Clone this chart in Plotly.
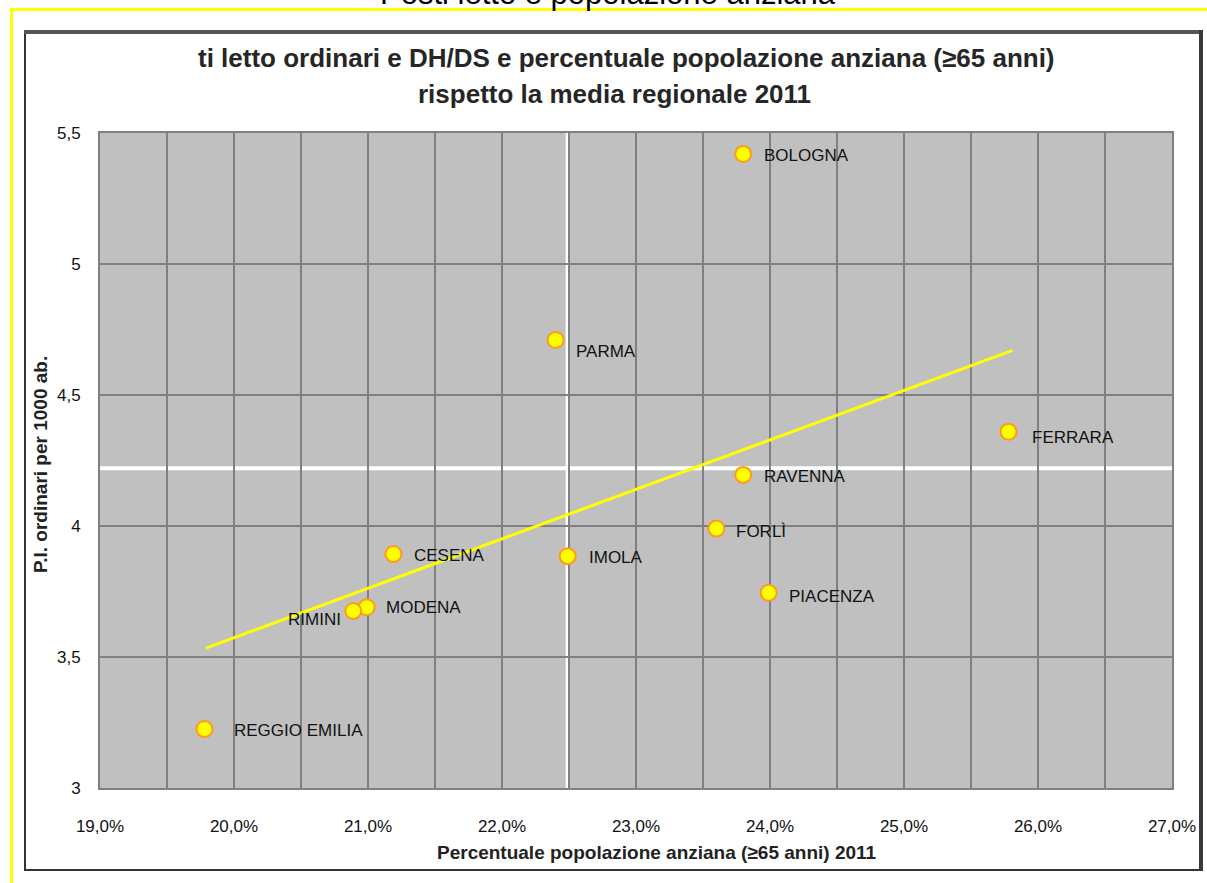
import plotly.graph_objects as go

# ---------------- data ----------------
cities = ["BOLOGNA", "PARMA", "FERRARA", "RAVENNA", "FORLÌ", "PIACENZA",
          "IMOLA", "CESENA", "MODENA", "RIMINI", "REGGIO EMILIA"]
pct_anziani = [23.80, 22.40, 25.78, 23.80, 23.60, 23.99, 22.49, 21.19, 20.99, 20.89, 19.78]
posti_letto = [5.42, 4.71, 4.36, 4.195, 3.99, 3.745, 3.885, 3.893, 3.69, 3.676, 3.225]

media_pct = 22.49      # regional mean, % population >=65
media_pl = 4.22        # regional mean, beds per 1000

trend_x = [19.79, 25.81]
trend_y = [3.534, 4.67]

x_ticks = [19, 20, 21, 22, 23, 24, 25, 26, 27]
x_tick_labels = ["19,0%", "20,0%", "21,0%", "22,0%", "23,0%", "24,0%", "25,0%", "26,0%", "27,0%"]
y_ticks = [3, 3.5, 4, 4.5, 5, 5.5]
y_tick_labels = ["3", "3,5", "4", "4,5", "5", "5,5"]

header = "Posti letto e popolazione anziana"
title_line1 = "ti letto ordinari e DH/DS e percentuale popolazione anziana (≥65 anni)"
title_line2 = "rispetto la media regionale 2011"
x_title = "Percentuale popolazione anziana (≥65 anni) 2011"
y_title = "P.I. ordinari per 1000 ab."

# label offsets (pixels): style only
label_dx = [19, 18, 21, 19, 18, 18, 19, 19, 17, -10, 27]
label_dy = [2, 12, 6, 2, 3, 4, 1, 1, 0, 9, 1]

# ---------------- geometry ----------------
W_FIG, H_FIG = 1207, 883
L, R, T, B = 100, 1172, 133, 788
PW, PH = R - L, B - T


def px(p):
    return (p - L) / PW


def py(p):
    return (B - p) / PH


FONT = "Liberation Sans, Arial, sans-serif"
TXT = "#111111"

fig = go.Figure()

# trend line
fig.add_trace(go.Scatter(x=trend_x, y=trend_y, mode="lines",
                         line=dict(color="#FFFF00", width=3),
                         hoverinfo="skip", showlegend=False))

# points
fig.add_trace(go.Scatter(x=pct_anziani, y=posti_letto, mode="markers",
                         marker=dict(size=16, color="#FFFF00",
                                     line=dict(color="#FF9A1A", width=2)),
                         text=cities, hoverinfo="text", showlegend=False,
                         cliponaxis=False))

annotations = []
for name, xv, yv, dx, dy in zip(cities, pct_anziani, posti_letto, label_dx, label_dy):
    annotations.append(dict(
        x=xv, y=yv, xref="x", yref="y", text=name, showarrow=False,
        xanchor="left" if dx > 0 else "right", yanchor="middle",
        xshift=dx, yshift=-dy,
        font=dict(family=FONT, size=17, color=TXT)))

# titles
annotations += [
    dict(text=header, x=px(608), y=py(-6), xref="paper", yref="paper",
         showarrow=False, xanchor="center", yanchor="middle",
         font=dict(family=FONT, size=31, color="#000000")),
    dict(text="<b>" + title_line1 + "</b>", x=px(196), y=py(58), xref="paper", yref="paper",
         showarrow=False, xanchor="left", yanchor="middle",
         font=dict(family=FONT, size=26, color="#262626")),
    dict(text="<b>" + title_line2 + "</b>", x=px(614), y=py(94), xref="paper", yref="paper",
         showarrow=False, xanchor="center", yanchor="middle",
         font=dict(family=FONT, size=26, color="#262626")),
    dict(text="<b>" + x_title + "</b>", x=px(657), y=py(852), xref="paper", yref="paper",
         showarrow=False, xanchor="center", yanchor="middle",
         font=dict(family=FONT, size=19, color="#222222")),
    dict(text="<b>" + y_title + "</b>", x=px(40), y=py(465), xref="paper", yref="paper",
         showarrow=False, xanchor="center", yanchor="middle", textangle=-90,
         font=dict(family=FONT, size=19, color="#222222")),
]

shapes = [
    # mean lines (white cross)
    dict(type="line", xref="x", yref="paper", x0=media_pct, x1=media_pct,
         y0=py(B + 4), y1=1, line=dict(color="#FFFFFF", width=4), layer="between"),
    dict(type="line", xref="paper", yref="y", x0=px(L - 4), x1=1, y0=media_pl, y1=media_pl,
         line=dict(color="#FFFFFF", width=4), layer="between"),
    # outer yellow frame
    dict(type="rect", xref="paper", yref="paper", x0=px(10), x1=px(1215), y0=py(11), y1=py(8),
         fillcolor="#FFFF00", line=dict(width=0), layer="above"),
    dict(type="rect", xref="paper", yref="paper", x0=px(10), x1=px(13), y0=py(890), y1=py(8),
         fillcolor="#FFFF00", line=dict(width=0), layer="above"),
    # chart box
    dict(type="rect", xref="paper", yref="paper", x0=px(25), x1=px(1201), y0=py(870), y1=py(32),
         fillcolor="rgba(0,0,0,0)", line=dict(color="#333333", width=2), layer="above"),
    dict(type="rect", xref="paper", yref="paper", x0=px(24), x1=px(1203), y0=py(34), y1=py(30),
         fillcolor="#555555", line=dict(width=0), layer="above"),
    dict(type="rect", xref="paper", yref="paper", x0=px(1199), x1=px(1203), y0=py(871), y1=py(30),
         fillcolor="#3a3a3a", line=dict(width=0), layer="above"),
]

fig.update_layout(
    width=W_FIG, height=H_FIG, autosize=False,
    margin=dict(l=L, r=W_FIG - R, t=T, b=H_FIG - B, pad=0),
    paper_bgcolor="#FFFFFF", plot_bgcolor="#C0C0C0",
    font=dict(family=FONT, color=TXT),
    showlegend=False,
    annotations=annotations, shapes=shapes,
    xaxis=dict(range=[19, 27], tickvals=x_ticks, ticktext=x_tick_labels,
               showgrid=True, gridcolor="#808080", gridwidth=1.5,
               minor=dict(dtick=0.5, tick0=19, showgrid=True, gridcolor="#808080", gridwidth=1.5),
               showline=True, linecolor="#808080", linewidth=2, mirror=True,
               zeroline=False, ticks="", ticklabelstandoff=22,
               tickfont=dict(family=FONT, size=17, color=TXT)),
    yaxis=dict(range=[3, 5.5], tickvals=y_ticks, ticktext=y_tick_labels,
               showgrid=True, gridcolor="#808080", gridwidth=1.5,
               showline=True, linecolor="#808080", linewidth=2, mirror=True,
               zeroline=False, ticks="", ticklabelstandoff=14,
               tickfont=dict(family=FONT, size=17, color=TXT)),
)

fig.write_html("out.html",
               config={"displayModeBar": False},
               post_script="document.body.style.margin='0';document.body.style.overflow='hidden';")
